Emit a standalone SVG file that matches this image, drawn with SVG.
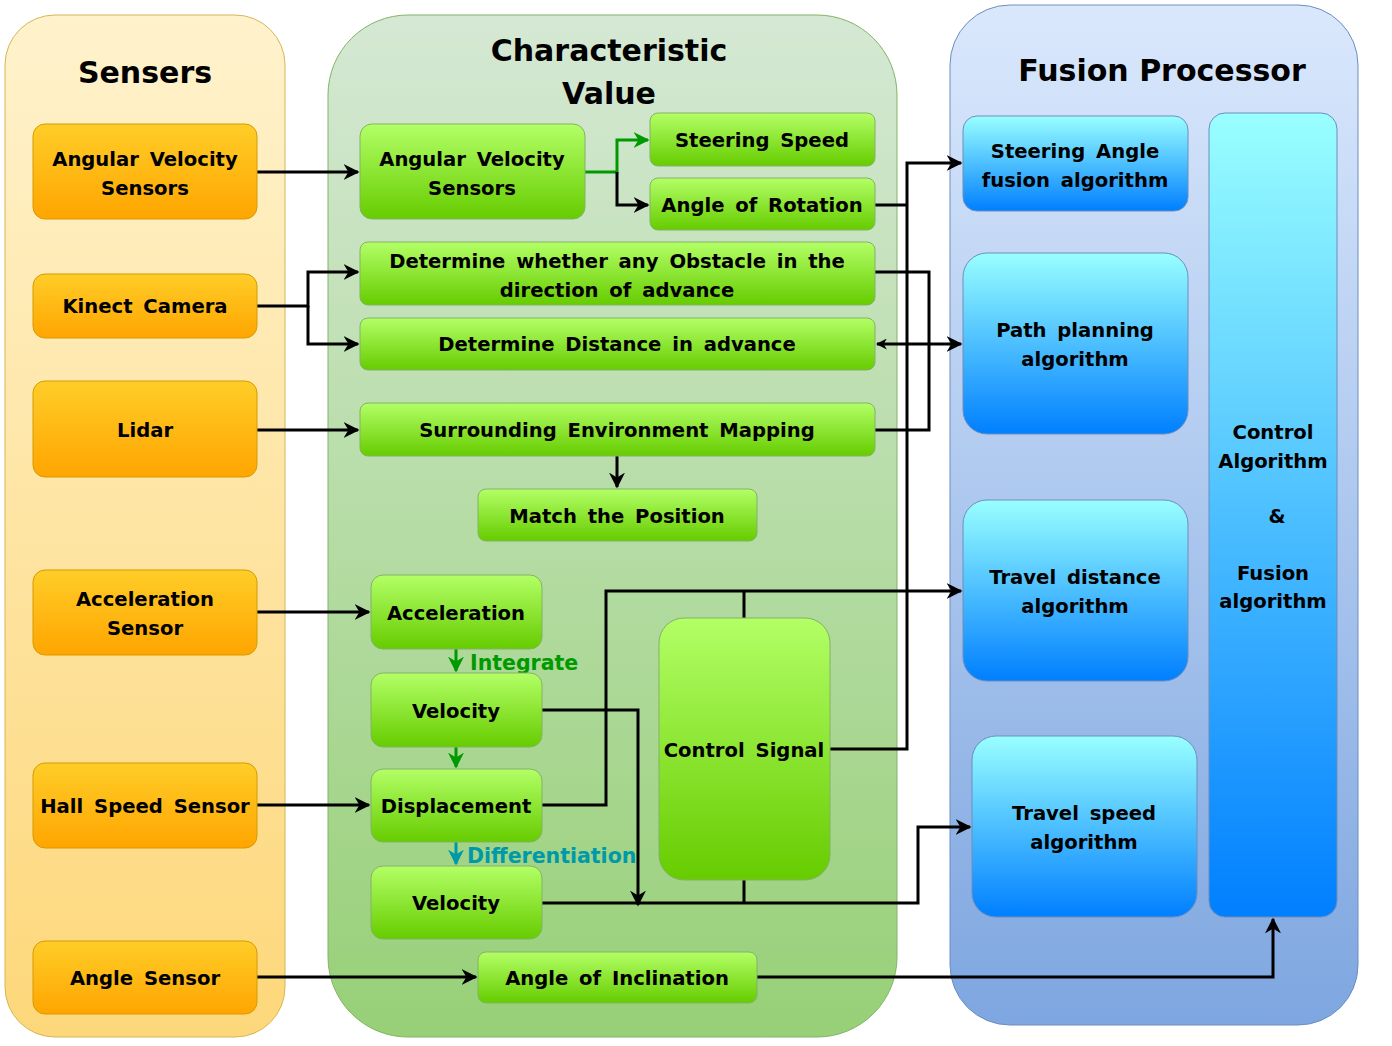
<svg xmlns="http://www.w3.org/2000/svg" width="1392" height="1046" viewBox="0 0 1392 1046">
<defs>
<linearGradient id="gLaneY" x1="0" y1="0" x2="0" y2="1"><stop offset="0" stop-color="#fff2cc"/><stop offset="1" stop-color="#fdd77a"/></linearGradient>
<linearGradient id="gLaneG" x1="0" y1="0" x2="0" y2="1"><stop offset="0" stop-color="#d5e8d4"/><stop offset="1" stop-color="#97d077"/></linearGradient>
<linearGradient id="gLaneB" x1="0" y1="0" x2="0" y2="1"><stop offset="0" stop-color="#dae8fc"/><stop offset="1" stop-color="#7ea6e0"/></linearGradient>
<linearGradient id="gO" x1="0" y1="0" x2="0" y2="1"><stop offset="0" stop-color="#ffcd28"/><stop offset="1" stop-color="#ffa500"/></linearGradient>
<linearGradient id="gG" x1="0" y1="0" x2="0" y2="1"><stop offset="0" stop-color="#b3ff66"/><stop offset="1" stop-color="#66cc00"/></linearGradient>
<linearGradient id="gB" x1="0" y1="0" x2="0" y2="1"><stop offset="0" stop-color="#99ffff"/><stop offset="1" stop-color="#007fff"/></linearGradient>
<marker id="ak2" viewBox="0 0 10 10" refX="9" refY="5" markerWidth="16" markerHeight="16" markerUnits="userSpaceOnUse" orient="auto-start-reverse"><path d="M0,0 L10,5 L0,10 L3,5 Z" fill="#000"/></marker>
<marker id="aks" viewBox="0 0 10 10" refX="9" refY="5" markerWidth="11" markerHeight="11" markerUnits="userSpaceOnUse" orient="auto-start-reverse"><path d="M0,0 L10,5 L0,10 L3,5 Z" fill="#000"/></marker>
<marker id="ag" viewBox="0 0 10 10" refX="9" refY="5" markerWidth="16" markerHeight="16" markerUnits="userSpaceOnUse" orient="auto"><path d="M0,0 L10,5 L0,10 L3,5 Z" fill="#009900"/></marker>
<marker id="at" viewBox="0 0 10 10" refX="9" refY="5" markerWidth="16" markerHeight="16" markerUnits="userSpaceOnUse" orient="auto"><path d="M0,0 L10,5 L0,10 L3,5 Z" fill="#0099aa"/></marker>
</defs>
<style>
text{font-family:"DejaVu Sans","Noto Sans",sans-serif;font-weight:bold;fill:#000;text-anchor:middle;}
.t{font-size:19.6px;word-spacing:4px;}
.h{font-size:30px;}
.o{fill:url(#gO);stroke:#d79b00;stroke-width:1;}
.g{fill:url(#gG);stroke:#82b366;stroke-width:1;}
.b{fill:url(#gB);stroke:#6c8ebf;stroke-width:1;}
.c{fill:none;stroke:#000;stroke-width:3;}
.cg{fill:none;stroke:#009900;stroke-width:3;}
.ct{fill:none;stroke:#0099aa;stroke-width:3;}
.lab{font-size:20.5px;text-anchor:start;}
</style>

<g id="lane-sensers">
<rect x="5" y="15" width="280" height="1022" rx="50" fill="url(#gLaneY)" stroke="#d6b656"/>
<text class="h" x="145" y="83">Sensers</text>
</g>
<g id="lane-characteristic">
<rect x="328" y="15" width="569" height="1022" rx="80" fill="url(#gLaneG)" stroke="#82b366"/>
<text class="h" x="609" y="61">Characteristic</text>
<text class="h" x="609" y="104">Value</text>
</g>
<g id="lane-fusion">
<rect x="950" y="5" width="408" height="1020" rx="60" fill="url(#gLaneB)" stroke="#6c8ebf"/>
<text class="h" x="1162" y="81">Fusion Processor</text>
</g>

<g id="connectors">
<path class="c" d="M257,172 H358" marker-end="url(#ak2)"/>
<path class="cg" d="M585,172 H617 V140 H648" marker-end="url(#ag)"/>
<path class="c" d="M617,172 V205 H648" marker-end="url(#ak2)"/>
<path class="c" d="M875,205 H907"/>
<path class="c" d="M830,749 H907 V163 H961" marker-end="url(#ak2)"/>
<path class="c" d="M257,306 H308 V272 H358" marker-end="url(#ak2)"/>
<path class="c" d="M308,306 V344 H358" marker-end="url(#ak2)"/>
<path class="c" d="M875,272 H929 V430 H875"/>
<path class="c" d="M877,344 H961" marker-start="url(#aks)" marker-end="url(#ak2)"/>
<path class="c" d="M257,430 H358" marker-end="url(#ak2)"/>
<path class="c" d="M617,456 V487" marker-end="url(#ak2)"/>
<path class="c" d="M257,612 H369" marker-end="url(#ak2)"/>
<path class="cg" d="M456,649 V671" marker-end="url(#ag)"/>
<path class="cg" d="M456,747 V767" marker-end="url(#ag)"/>
<path class="ct" d="M456,842 V864" marker-end="url(#at)"/>
<path class="c" d="M257,805 H369" marker-end="url(#ak2)"/>
<path class="c" d="M542,805 H606 V591 H961" marker-end="url(#ak2)"/>
<path class="c" d="M744,618 V591"/>
<path class="c" d="M542,710 H638 V905" marker-end="url(#ak2)"/>
<path class="c" d="M542,903 H918 V827 H970" marker-end="url(#ak2)"/>
<path class="c" d="M744,880 V903"/>
<path class="c" d="M257,977 H476" marker-end="url(#ak2)"/>
<path class="c" d="M757,977 H1273 V919" marker-end="url(#ak2)"/>
<text class="lab" x="470" y="670" style="fill:#009900">Integrate</text>
<text class="lab" x="467" y="863" style="fill:#0099aa">Differentiation</text>
</g>

<g id="s-angular"><rect class="o" x="33" y="124" width="224" height="95" rx="12"/><text class="t" x="145" y="166">Angular Velocity</text><text class="t" x="145" y="195">Sensors</text></g>
<g id="s-kinect"><rect class="o" x="33" y="274" width="224" height="64" rx="12"/><text class="t" x="145" y="313">Kinect Camera</text></g>
<g id="s-lidar"><rect class="o" x="33" y="381" width="224" height="96" rx="12"/><text class="t" x="145" y="437">Lidar</text></g>
<g id="s-accel"><rect class="o" x="33" y="570" width="224" height="85" rx="12"/><text class="t" x="145" y="606">Acceleration</text><text class="t" x="145" y="635">Sensor</text></g>
<g id="s-hall"><rect class="o" x="33" y="763" width="224" height="85" rx="12"/><text class="t" x="145" y="813">Hall Speed Sensor</text></g>
<g id="s-angle"><rect class="o" x="33" y="941" width="224" height="73" rx="12"/><text class="t" x="145" y="985">Angle Sensor</text></g>

<g id="c-angular"><rect class="g" x="360" y="124" width="225" height="95" rx="12"/><text class="t" x="472" y="166">Angular Velocity</text><text class="t" x="472" y="195">Sensors</text></g>
<g id="c-steering"><rect class="g" x="650" y="113" width="225" height="53" rx="8"/><text class="t" x="762" y="147">Steering Speed</text></g>
<g id="c-rotation"><rect class="g" x="650" y="178" width="225" height="52" rx="8"/><text class="t" x="762" y="212">Angle of Rotation</text></g>
<g id="c-obstacle"><rect class="g" x="360" y="242" width="515" height="63" rx="8"/><text class="t" x="617" y="268">Determine whether any Obstacle in the</text><text class="t" x="617" y="297">direction of advance</text></g>
<g id="c-distance"><rect class="g" x="360" y="318" width="515" height="52" rx="8"/><text class="t" x="617" y="351">Determine Distance in advance</text></g>
<g id="c-mapping"><rect class="g" x="360" y="403" width="515" height="53" rx="8"/><text class="t" x="617" y="437">Surrounding Environment Mapping</text></g>
<g id="c-match"><rect class="g" x="478" y="489" width="279" height="52" rx="8"/><text class="t" x="617" y="523">Match the Position</text></g>
<g id="c-accel"><rect class="g" x="371" y="575" width="171" height="74" rx="12"/><text class="t" x="456" y="620">Acceleration</text></g>
<g id="c-velocity1"><rect class="g" x="371" y="673" width="171" height="74" rx="12"/><text class="t" x="456" y="718">Velocity</text></g>
<g id="c-displacement"><rect class="g" x="371" y="769" width="171" height="73" rx="12"/><text class="t" x="456" y="813">Displacement</text></g>
<g id="c-velocity2"><rect class="g" x="371" y="866" width="171" height="73" rx="12"/><text class="t" x="456" y="910">Velocity</text></g>
<g id="c-control"><rect class="g" x="659" y="618" width="171" height="262" rx="25"/><text class="t" x="744" y="757">Control Signal</text></g>
<g id="c-inclination"><rect class="g" x="478" y="952" width="279" height="51" rx="8"/><text class="t" x="617" y="985">Angle of Inclination</text></g>

<g id="f-steering"><rect class="b" x="963" y="116" width="225" height="95" rx="14"/><text class="t" x="1075" y="158">Steering Angle</text><text class="t" x="1075" y="187">fusion algorithm</text></g>
<g id="f-path"><rect class="b" x="963" y="253" width="225" height="181" rx="24"/><text class="t" x="1075" y="337">Path planning</text><text class="t" x="1075" y="366">algorithm</text></g>
<g id="f-distance"><rect class="b" x="963" y="500" width="225" height="181" rx="24"/><text class="t" x="1075" y="584">Travel distance</text><text class="t" x="1075" y="613">algorithm</text></g>
<g id="f-speed"><rect class="b" x="972" y="736" width="225" height="181" rx="24"/><text class="t" x="1084" y="820">Travel speed</text><text class="t" x="1084" y="849">algorithm</text></g>
<g id="f-control"><rect class="b" x="1209" y="113" width="128" height="804" rx="16"/><text class="t" x="1273" y="439">Control</text><text class="t" x="1273" y="468">Algorithm</text><text class="t" x="1277" y="523">&amp;</text><text class="t" x="1273" y="580">Fusion</text><text class="t" x="1273" y="608">algorithm</text></g>
</svg>
